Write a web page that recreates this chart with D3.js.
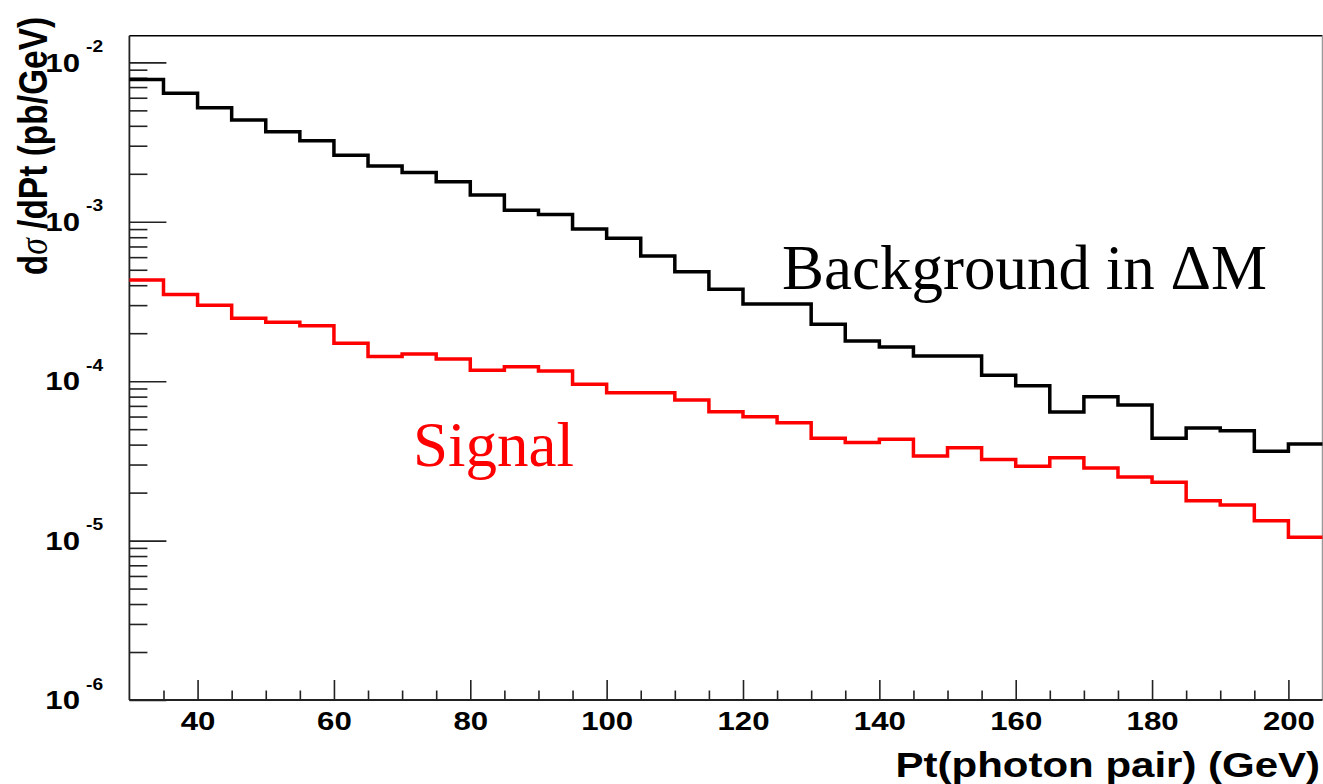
<!DOCTYPE html>
<html>
<head>
<meta charset="utf-8">
<script src="https://cdn.jsdelivr.net/npm/d3@7"></script>
<style>
  body { margin: 0; background: #fff; }
  svg { display: block; }
</style>
</head>
<body>
<svg id="chart" width="1323" height="784"></svg>
<script>
// bin lower edges (GeV), last edge closes the histogram
var binEdges = [30, 35, 40, 45, 50, 55, 60, 65, 70, 75, 80, 85, 90, 95, 100, 105, 110, 115,
                120, 125, 130, 135, 140, 145, 150, 155, 160, 165, 170, 175, 180, 185, 190, 195, 200];
var xMaxEdge = 205;

// d sigma / dPt (pb/GeV)
var background = [7.8e-3, 6.4e-3, 5.2e-3, 4.35e-3, 3.67e-3, 3.22e-3, 2.61e-3, 2.24e-3, 2.04e-3, 1.78e-3,
                  1.47e-3, 1.18e-3, 1.11e-3, 9.0e-4, 7.87e-4, 6.09e-4, 4.86e-4, 3.78e-4, 3.05e-4, 3.05e-4,
                  2.28e-4, 1.79e-4, 1.64e-4, 1.44e-4, 1.44e-4, 1.09e-4, 9.35e-5, 6.4e-5, 7.98e-5, 7.08e-5,
                  4.38e-5, 5.08e-5, 4.89e-5, 3.64e-5, 4.03e-5];
var signal = [4.31e-4, 3.5e-4, 3.0e-4, 2.48e-4, 2.34e-4, 2.23e-4, 1.73e-4, 1.43e-4, 1.48e-4, 1.38e-4,
              1.17e-4, 1.23e-4, 1.16e-4, 9.55e-5, 8.45e-5, 8.45e-5, 7.61e-5, 6.43e-5, 5.98e-5, 5.48e-5,
              4.38e-5, 4.13e-5, 4.33e-5, 3.39e-5, 3.82e-5, 3.23e-5, 2.93e-5, 3.31e-5, 2.85e-5, 2.51e-5,
              2.32e-5, 1.78e-5, 1.67e-5, 1.33e-5, 1.05e-5];

var xTickLabels = [40, 60, 80, 100, 120, 140, 160, 180, 200];
var xMinorTicks = [35, 45, 50, 55, 65, 70, 75, 85, 90, 95, 105, 110, 115, 125, 130, 135,
                   145, 150, 155, 165, 170, 175, 185, 190, 195];
var yDecades = [1e-6, 1e-5, 1e-4, 1e-3, 1e-2];
var yExponents = ["-6", "-5", "-4", "-3", "-2"];

var svg = d3.select("#chart");
var padL = 129.4, padR = 1322.5, padT = 35.7, padB = 700;
var yMax = 1.47e-2;
var stretch = 1.2; // the original picture is widened horizontally

var x = d3.scaleLinear().domain([30, xMaxEdge]).range([padL, padR]);
var y = d3.scaleLog().domain([1e-6, yMax]).range([padB, padT]);

var font = "'Liberation Sans', Arial, Helvetica, sans-serif";

// frame: top and right
svg.append("line").attr("x1", padL).attr("x2", padR).attr("y1", padT).attr("y2", padT)
  .attr("stroke", "#000").attr("stroke-width", 1.5);
svg.append("line").attr("x1", padR).attr("x2", padR).attr("y1", padT).attr("y2", padB)
  .attr("stroke", "#999").attr("stroke-width", 1.5);

// y axis: major + minor ticks pointing inward
var yMinor = y.ticks().filter(function (d) {
  var l = Math.log10(d);
  return Math.abs(l - Math.round(l)) > 1e-6 && d < yMax;
});

var gyMinor = svg.append("g").attr("transform", "translate(" + padL + ",0)")
  .call(d3.axisLeft(y).tickValues(yMinor).tickSize(-18).tickFormat(""));
var gy = svg.append("g").attr("transform", "translate(" + padL + ",0)")
  .call(d3.axisLeft(y).tickValues(yDecades).tickSize(-37).tickFormat(""));
gyMinor.select(".domain").remove();
gy.select(".domain").attr("d", "M0," + padT + "V" + padB);
[gy, gyMinor].forEach(function (g) {
  g.selectAll("line").attr("stroke", "#222").attr("stroke-width", 1.6);
  g.selectAll("path").attr("stroke", "#222").attr("stroke-width", 1.8);
});

// y labels 10^-k
var ylab = svg.append("g").attr("font-family", font).attr("font-weight", "bold").attr("fill", "#000");
yDecades.forEach(function (d, i) {
  var ty = y(d);
  ylab.append("text")
    .attr("transform", "translate(80," + (ty + 9.3) + ") scale(" + stretch + ",1)")
    .attr("text-anchor", "end").attr("font-size", 26).text("10");
  ylab.append("text")
    .attr("transform", "translate(86," + (ty - 10.5) + ") scale(" + stretch + ",1)")
    .attr("font-size", 16).text(yExponents[i]);
});

// x axis
var gxMinor = svg.append("g").attr("transform", "translate(0," + padB + ")")
  .call(d3.axisBottom(x).tickValues(xMinorTicks).tickSize(-9.5).tickFormat(""));
var gx = svg.append("g").attr("transform", "translate(0," + padB + ")")
  .call(d3.axisBottom(x).tickValues(xTickLabels).tickSize(-20).tickPadding(11.5));
gxMinor.select(".domain").remove();
gx.select(".domain").attr("d", "M" + padL + ",0H" + padR);
[gx, gxMinor].forEach(function (g) {
  g.selectAll("line").attr("stroke", "#222").attr("stroke-width", 1.6);
  g.selectAll("path").attr("stroke", "#222").attr("stroke-width", 1.8);
});
gx.selectAll("text")
  .attr("font-family", font).attr("font-weight", "bold").attr("font-size", 26).attr("fill", "#000")
  .attr("transform", "scale(" + stretch + ",1)");

// axis titles
svg.append("text")
  .attr("transform", "translate(1320,777) scale(" + stretch + ",1)")
  .attr("text-anchor", "end")
  .attr("font-family", font).attr("font-weight", "bold").attr("font-size", 35)
  .text("Pt(photon pair) (GeV)");

var ytitle = svg.append("text")
  .attr("transform", "translate(47,146) scale(" + stretch + ",1) rotate(-90)")
  .attr("text-anchor", "middle")
  .attr("font-family", font).attr("font-weight", "bold").attr("font-size", 33.5);
ytitle.append("tspan").text("d");
ytitle.append("tspan").attr("font-family", "'Liberation Serif', serif")
  .attr("font-style", "italic").attr("font-weight", "normal").text("\u03c3");
ytitle.append("tspan").text(" /dPt (pb/GeV)");

// histograms
function histPoints(vals) {
  var pts = binEdges.map(function (e, i) { return [e, vals[i]]; });
  pts.push([xMaxEdge, vals[vals.length - 1]]);
  return pts;
}
var step = d3.line()
  .x(function (d) { return x(d[0]); })
  .y(function (d) { return y(d[1]); })
  .curve(d3.curveStepAfter);

svg.append("path").datum(histPoints(background))
  .attr("d", step).attr("fill", "none").attr("stroke", "#000").attr("stroke-width", 3.5);
svg.append("path").datum(histPoints(signal))
  .attr("d", step).attr("fill", "none").attr("stroke", "#ff0000").attr("stroke-width", 3.5);

// annotations
var serif = "'Liberation Serif', 'Times New Roman', Times, serif";
svg.append("text").attr("x", 782).attr("y", 289)
  .attr("font-family", serif).attr("font-size", 63).attr("fill", "#000")
  .text("Background in \u0394M");
svg.append("text").attr("x", 413).attr("y", 466)
  .attr("font-family", serif).attr("font-size", 63).attr("fill", "#ff0000")
  .text("Signal");
</script>
</body>
</html>
